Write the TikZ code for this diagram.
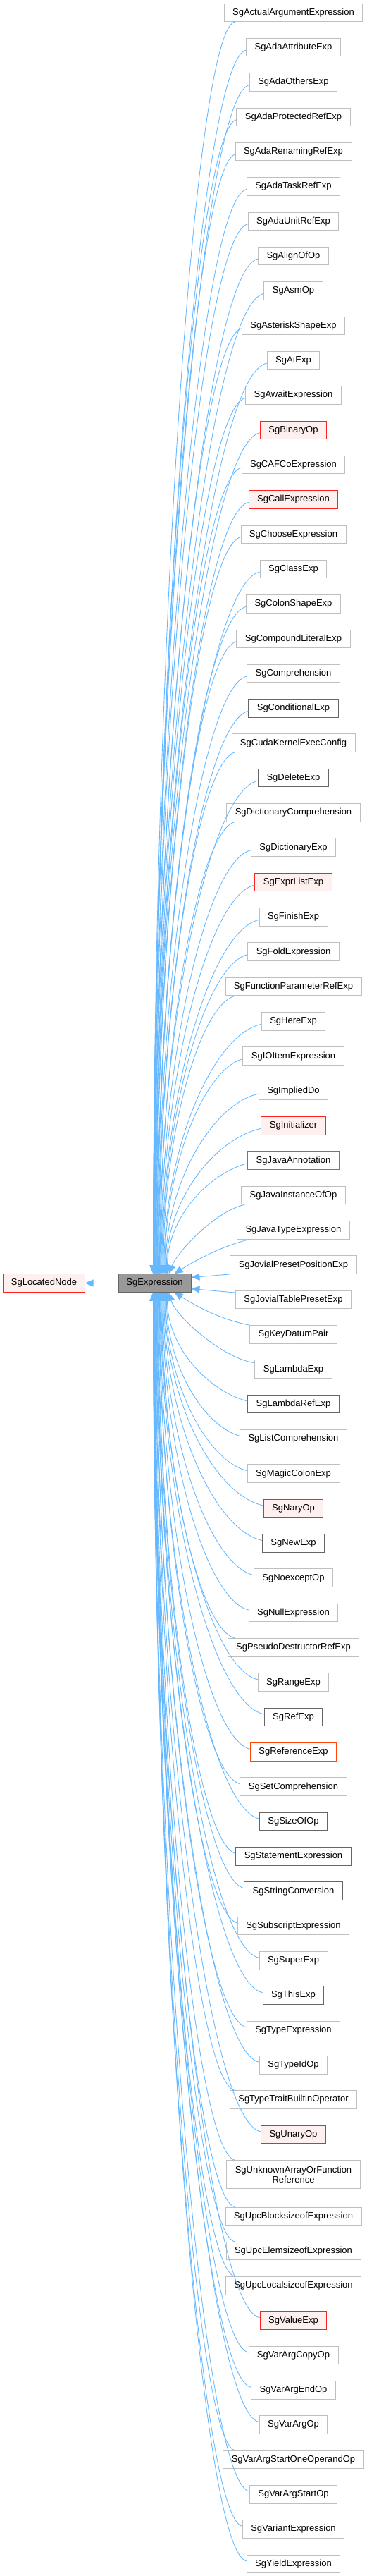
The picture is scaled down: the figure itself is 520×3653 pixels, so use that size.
\documentclass[tikz,border=0pt]{standalone}
\usepackage{fontspec}
\setmainfont{Liberation Sans}
\usetikzlibrary{arrows.meta,calc}
\definecolor{edgec}{HTML}{63B8FF}
\definecolor{gborder}{HTML}{BFBFBF}
\definecolor{dborder}{HTML}{666666}
\definecolor{rborder}{HTML}{FF2020}
\definecolor{rfill}{HTML}{FFF0F0}
\definecolor{oborder}{HTML}{FF4500}
\definecolor{exfill}{HTML}{999999}
\tikzset{
  box/.style={draw=gborder, fill=white, line width=0.9pt, font=\fontsize{13pt}{14pt}\selectfont,
    inner xsep=12pt, inner ysep=0pt, minimum height=25.6pt, text height=9.5pt, text depth=2.8pt},
  clsdark/.style={box, draw=dborder},
  clsred/.style={box, draw=rborder, fill=rfill},
  clsorange/.style={box, draw=oborder},
  tallbox/.style={draw=gborder, fill=white, line width=0.9pt, font=\fontsize{13pt}{14pt}\selectfont,
    inner xsep=12pt, inner ysep=0pt, minimum height=40pt, align=center},
  link/.style={draw=edgec, line width=0.85pt, arrows={Triangle[length=12pt,width=10pt]-}},
}
\newcommand\upedge[2]{%
  \draw[link] let \p1=(#1.west), \p2=(#1.south west), \p3=([xshift=#2pt]expr.north west),
    \n1={max(\x1,333pt)}, \n2={ifthenelse(\x1<333pt,\y2,\y1-4pt)} in
    (\p3) .. controls (\x3,{\y3+0.5*(\n2-(\y3))}) and ({\n1-0.5*(\n1-(\x3))},\n2-15pt) .. (\n1,\n2);
}
\newcommand\downedge[2]{%
  \draw[link] let \p1=(#1.west), \p2=(#1.north west), \p3=([xshift=#2pt]expr.south west),
    \n1={max(\x1,333pt)}, \n2={ifthenelse(\x1<333pt,\y2,\y1+4pt)} in
    (\p3) .. controls (\x3,{\y3+0.5*(\n2-(\y3))}) and ({\n1-0.5*(\n1-(\x3))},\n2+15pt) .. (\n1,\n2);
}
\begin{document}
\begin{tikzpicture}[x=1pt,y=1pt]
\useasboundingbox[fill=white] (0,0) rectangle (520,-3653);

\node[clsred, inner xsep=11pt] (loc) at (62.5,-1819.5) {SgLocatedNode};
\node[box, draw=dborder, fill=exfill, minimum width=103pt, inner xsep=0pt] (expr) at (219.5,-1819.5) {SgExpression};

\node[box] (n1) at (416.5,-17.8) {SgActualArgumentExpression};
\node[box] (n2) at (416.5,-67.13) {SgAdaAttributeExp};
\node[box] (n3) at (416.5,-116.46) {SgAdaOthersExp};
\node[box] (n4) at (416.5,-165.79) {SgAdaProtectedRefExp};
\node[box] (n5) at (416.5,-215.12) {SgAdaRenamingRefExp};
\node[box] (n6) at (416.5,-264.45) {SgAdaTaskRefExp};
\node[box] (n7) at (416.5,-313.78) {SgAdaUnitRefExp};
\node[box] (n8) at (416.5,-363.11) {SgAlignOfOp};
\node[box] (n9) at (416.5,-412.44) {SgAsmOp};
\node[box] (n10) at (416.5,-461.77) {SgAsteriskShapeExp};
\node[box] (n11) at (416.5,-511.1) {SgAtExp};
\node[box] (n12) at (416.5,-560.43) {SgAwaitExpression};
\node[clsred] (n13) at (416.5,-609.76) {SgBinaryOp};
\node[box] (n14) at (416.5,-659.09) {SgCAFCoExpression};
\node[clsred] (n15) at (416.5,-708.42) {SgCallExpression};
\node[box] (n16) at (416.5,-757.75) {SgChooseExpression};
\node[box] (n17) at (416.5,-807.08) {SgClassExp};
\node[box] (n18) at (416.5,-856.41) {SgColonShapeExp};
\node[box] (n19) at (416.5,-905.74) {SgCompoundLiteralExp};
\node[box] (n20) at (416.5,-955.07) {SgComprehension};
\node[clsdark] (n21) at (416.5,-1004.4) {SgConditionalExp};
\node[box] (n22) at (416.5,-1053.73) {SgCudaKernelExecConfig};
\node[clsdark] (n23) at (416.5,-1103.06) {SgDeleteExp};
\node[box] (n24) at (416.5,-1152.39) {SgDictionaryComprehension};
\node[box] (n25) at (416.5,-1201.72) {SgDictionaryExp};
\node[clsred] (n26) at (416.5,-1251.05) {SgExprListExp};
\node[box] (n27) at (416.5,-1300.38) {SgFinishExp};
\node[box] (n28) at (416.5,-1349.71) {SgFoldExpression};
\node[box] (n29) at (416.5,-1399.04) {SgFunctionParameterRefExp};
\node[box] (n30) at (416.5,-1448.37) {SgHereExp};
\node[box] (n31) at (416.5,-1497.7) {SgIOItemExpression};
\node[box] (n32) at (416.5,-1547.03) {SgImpliedDo};
\node[clsred] (n33) at (416.5,-1596.36) {SgInitializer};
\node[clsorange] (n34) at (416.5,-1645.69) {SgJavaAnnotation};
\node[box] (n35) at (416.5,-1695.02) {SgJavaInstanceOfOp};
\node[box] (n36) at (416.5,-1744.35) {SgJavaTypeExpression};
\node[box] (n37) at (416.5,-1793.68) {SgJovialPresetPositionExp};
\node[box] (n38) at (416.5,-1843.01) {SgJovialTablePresetExp};
\node[box] (n39) at (416.5,-1892.34) {SgKeyDatumPair};
\node[box] (n40) at (416.5,-1941.67) {SgLambdaExp};
\node[clsdark] (n41) at (416.5,-1991.0) {SgLambdaRefExp};
\node[box] (n42) at (416.5,-2040.33) {SgListComprehension};
\node[box] (n43) at (416.5,-2089.66) {SgMagicColonExp};
\node[clsred] (n44) at (416.5,-2138.99) {SgNaryOp};
\node[clsdark] (n45) at (416.5,-2188.32) {SgNewExp};
\node[box] (n46) at (416.5,-2237.65) {SgNoexceptOp};
\node[box] (n47) at (416.5,-2286.98) {SgNullExpression};
\node[box] (n48) at (416.5,-2336.31) {SgPseudoDestructorRefExp};
\node[box] (n49) at (416.5,-2385.64) {SgRangeExp};
\node[clsdark] (n50) at (416.5,-2434.97) {SgRefExp};
\node[clsorange] (n51) at (416.5,-2484.3) {SgReferenceExp};
\node[box] (n52) at (416.5,-2533.63) {SgSetComprehension};
\node[clsdark] (n53) at (416.5,-2582.96) {SgSizeOfOp};
\node[clsdark] (n54) at (416.5,-2632.29) {SgStatementExpression};
\node[clsdark] (n55) at (416.5,-2681.62) {SgStringConversion};
\node[box] (n56) at (416.5,-2730.95) {SgSubscriptExpression};
\node[box] (n57) at (416.5,-2780.28) {SgSuperExp};
\node[clsdark] (n58) at (416.5,-2829.61) {SgThisExp};
\node[box] (n59) at (416.5,-2878.94) {SgTypeExpression};
\node[box] (n60) at (416.5,-2928.27) {SgTypeIdOp};
\node[box] (n61) at (416.5,-2977.6) {SgTypeTraitBuiltinOperator};
\node[clsred] (n62) at (416.5,-3026.93) {SgUnaryOp};
\node[tallbox] (n63) at (416.5,-3083.6) {SgUnknownArrayOrFunction\\Reference};
\node[box] (n64) at (416.5,-3142.8) {SgUpcBlocksizeofExpression};
\node[box] (n65) at (416.5,-3192.1) {SgUpcElemsizeofExpression};
\node[box] (n66) at (416.5,-3241.4) {SgUpcLocalsizeofExpression};
\node[clsred] (n67) at (416.5,-3290.7) {SgValueExp};
\node[box] (n68) at (416.5,-3340.0) {SgVarArgCopyOp};
\node[box] (n69) at (416.5,-3389.3) {SgVarArgEndOp};
\node[box] (n70) at (416.5,-3438.6) {SgVarArgOp};
\node[box] (n71) at (416.5,-3487.9) {SgVarArgStartOneOperandOp};
\node[box] (n72) at (416.5,-3537.2) {SgVarArgStartOp};
\node[box] (n73) at (416.5,-3586.5) {SgVariantExpression};
\node[box] (n74) at (416.5,-3635.8) {SgYieldExpression};

% inheritance to the parent
\draw[link] (loc.east) -- (expr.west);

% children above
\foreach \k in {1,...,34} {
  \pgfmathsetmacro\off{50+20*((\k-1)/33)^2}
  \upedge{n\k}{\off}
}
\draw[link] ([xshift=72pt]expr.north west) .. controls (252,-1775) and (305,-1718) .. ([xshift=5pt]n35.south west);
\draw[link] ([xshift=80pt]expr.north west) .. controls (270,-1792) and (310,-1768) .. ([xshift=18pt]n36.south west);
% children beside
\draw[link] ([yshift=8pt]expr.east) -- (n37.south west);
\draw[link] ([yshift=-8pt]expr.east) -- ([yshift=10pt]n38.west);
% children below
\draw[link] ([xshift=80pt]expr.south west) .. controls (270,-1847) and (310,-1871) .. (n39.north west);
\draw[link] ([xshift=72pt]expr.south west) .. controls (250,-1868) and (318,-1927) .. ([yshift=9pt]n40.west);
\foreach \k in {41,...,74} {
  \pgfmathsetmacro\off{50+20*((74-\k)/33)^2}
  \downedge{n\k}{\off}
}
\end{tikzpicture}
\end{document}
